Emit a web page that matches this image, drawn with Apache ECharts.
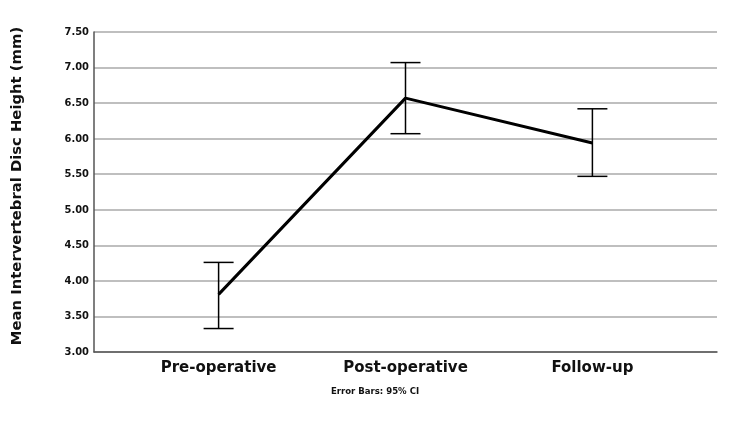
<!DOCTYPE html>
<html><head><meta charset="utf-8">
<script src="https://cdn.jsdelivr.net/npm/echarts@6/dist/echarts.min.js"></script>
<style>html,body{margin:0;padding:0;background:#fff}#c{width:750px;height:422px}</style>
</head><body><div id="c"></div>
<script>
var categories = ['Pre-operative', 'Post-operative', 'Follow-up'];
var means = [3.81, 6.57, 5.94];
var lowerCI = [3.33, 6.07, 5.47];
var upperCI = [4.26, 7.07, 6.42];
var yTicks = [3.0, 7.5, 0.5]; // min, max, interval
var yTitle = 'Mean Intervertebral Disc Height (mm)';
var caption = 'Error Bars: 95% CI';

var font = 'DejaVu Sans';
var fontC = 'DejaVu Sans Condensed';
var chart = echarts.init(document.getElementById('c'), null, {renderer: 'canvas'});
var lineData = means.map(function (m, i) { return [i, m]; });
var errData = means.map(function (m, i) { return [i, lowerCI[i], upperCI[i]]; });

chart.setOption({
  animation: false,
  backgroundColor: '#fff',
  grid: {left: 94, right: 33, top: 32, bottom: 70},
  xAxis: {
    type: 'value', min: -2/3, max: 8/3,
    splitLine: {show: false},
    axisLine: {show: true, onZero: false, lineStyle: {color: '#555', width: 1.5}},
    axisTick: {show: false},
    axisLabel: {
      customValues: [0, 1, 2],
      formatter: function (v) { return categories[Math.round(v)]; },
      fontFamily: font, fontWeight: 'bold', fontSize: 15, color: '#111', margin: 9
    }
  },
  yAxis: {
    type: 'value', min: yTicks[0], max: yTicks[1], interval: yTicks[2],
    axisLine: {show: true, onZero: false, lineStyle: {color: '#555', width: 1.5}},
    axisTick: {show: false},
    splitLine: {show: true, lineStyle: {color: '#aaa', width: 1.5}},
    axisLabel: {
      formatter: function (v) { return v.toFixed(2); },
      fontFamily: fontC, fontWeight: 'bold', fontSize: 11, color: '#111', margin: 5
    }
  },
  graphic: [{
    type: 'text', x: 17, y: 186, rotation: Math.PI / 2,
    style: {text: yTitle, font: 'bold 14.8px "DejaVu Sans"', fill: '#111',
            align: 'center', verticalAlign: 'middle'}
  }, {
    type: 'text', left: 'center', top: 387,
    style: {text: caption, font: 'bold 9.5px "DejaVu Sans Condensed"', fill: '#111'}
  }],
  series: [
    {
      type: 'line', data: lineData, symbol: 'none',
      lineStyle: {color: '#000', width: 3}, z: 3
    },
    {
      type: 'custom', data: errData, z: 4,
      renderItem: function (params, api) {
        var x = api.value(0);
        var lo = api.coord([x, api.value(1)]);
        var hi = api.coord([x, api.value(2)]);
        var hw = 15;
        var st = {stroke: '#000', lineWidth: 1.5};
        return {type: 'group', children: [
          {type: 'line', shape: {x1: lo[0], y1: lo[1], x2: hi[0], y2: hi[1]}, style: st},
          {type: 'line', shape: {x1: lo[0]-hw, y1: lo[1], x2: lo[0]+hw, y2: lo[1]}, style: st},
          {type: 'line', shape: {x1: hi[0]-hw, y1: hi[1], x2: hi[0]+hw, y2: hi[1]}, style: st}
        ]};
      }
    }
  ]
});
</script></body></html>
